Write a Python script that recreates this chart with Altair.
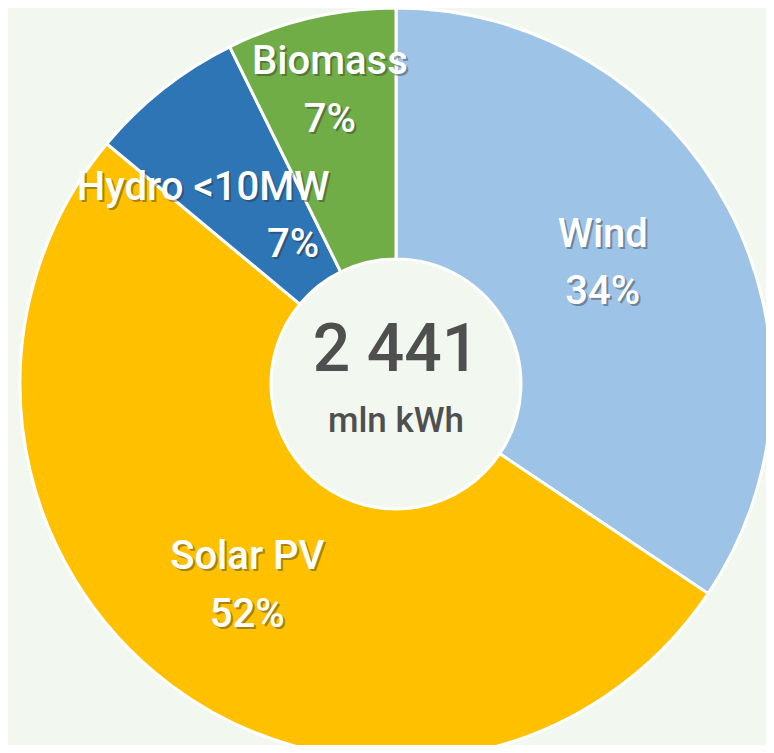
import altair as alt
import pandas as pd

# ---- data ----
categories = ["Wind", "Solar PV", "Hydro <10MW", "Biomass"]
values = [840, 1260, 163, 178]          # mln kWh
pct_labels = ["34%", "52%", "7%", "7%"]
total_label = "2 441"
unit_label = "mln kWh"

# ---- style / layout ----
colors = ["#9dc3e6", "#ffc000", "#2e75b6", "#70ad47"]
BG = "#f2f7f0"
W, H = 758, 737
CX, CY = 388, 376
R_OUT, R_IN = 376, 125
FONT = "Roboto"
LABEL_SIZE = 40
# cat: (anchor radius, name dx, name dy, pct dx, pct dy)
LABEL_LAYOUT = {
    "Wind": (240, -5, -36, -5, 21),
    "Solar PV": (250, 1, -27, 1, 31),
    "Hydro <10MW": (200, -69, -39, 21, 18),
    "Biomass": (300, 2, -30, 2, 28),
}

df = pd.DataFrame({
    "cat": categories,
    "value": values,
    "pct": pct_labels,
    "order": list(range(len(categories))),
})

base = alt.Chart(df).encode(
    theta=alt.Theta("value:Q", stack=True),
    order=alt.Order("order:Q"),
)

arc = base.mark_arc(
    radius=R_OUT, radius2=R_IN, stroke="white", strokeWidth=3, x=CX, y=CY
).encode(
    color=alt.Color("cat:N", scale=alt.Scale(domain=categories, range=colors), legend=None)
)

layers = [arc]
for cat, (r, ndx, ndy, pdx, pdy) in LABEL_LAYOUT.items():
    for field, dx, dy in (("cat", ndx, ndy), ("pct", pdx, pdy)):
        expr = f"datum.cat === '{cat}' ? datum.{field} : ''"
        for fill, off, op in (("#2a2a2a", 2, 0.4), ("white", 0, 1)):
            layers.append(
                base.transform_calculate(t=expr).mark_text(
                    radius=r, x=CX, y=CY, dx=dx + off, dy=dy + off,
                    font=FONT, fontSize=LABEL_SIZE, fontWeight=500,
                    fill=fill, opacity=op,
                    align="center", baseline="middle",
                ).encode(text="t:N")
            )

center_df = pd.DataFrame({"t": [total_label], "u": [unit_label]})
center_big = alt.Chart(center_df).mark_text(
    font=FONT, fontSize=66, fontWeight=500, fill="#4f4f4f",
    align="center", baseline="middle"
).encode(text="t:N", x=alt.value(CX), y=alt.value(CY - 33))
center_small = alt.Chart(center_df).mark_text(
    font=FONT, fontSize=35, fontWeight=500, fill="#4f4f4f",
    align="center", baseline="middle"
).encode(text="u:N", x=alt.value(CX), y=alt.value(CY + 37))
layers += [center_big, center_small]

chart = alt.layer(*layers).properties(
    width=W, height=H,
    autosize=alt.AutoSizeParams(type="none"),
    padding=0,
    background=BG,
).configure_view(stroke=None)

chart.save("out.html", embed_options={"renderer": "svg", "actions": False})
